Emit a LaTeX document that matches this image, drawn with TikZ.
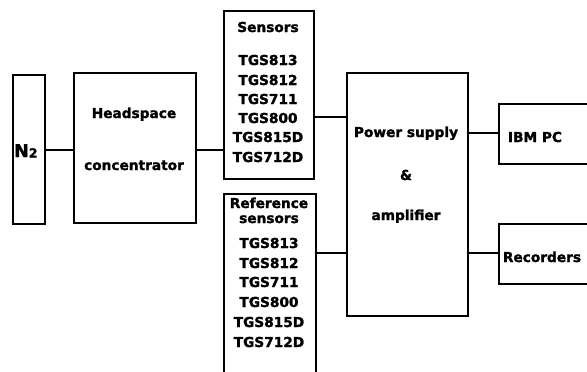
\documentclass[tikz,border=0pt]{standalone}
\usepackage{fontspec}
\setmainfont{DejaVu Sans}[BoldFeatures={FakeBold=1.6}]
\begin{document}
\begin{tikzpicture}[x=1pt,y=-1pt,
  box/.style={draw,line width=1.9pt,rectangle,inner sep=0pt,anchor=north west},
  lbl/.style={anchor=base,inner sep=0pt,font=\bfseries\fontsize{13.7}{16}\selectfont},
  wire/.style={line width=1.9pt}]
\clip (0,0) rectangle (587,372);
\fill[white] (0,0) rectangle (587,372);
% boxes
\node[box,minimum width=32pt,minimum height=149pt] (n2) at (12,74) {};
\node[box,minimum width=122pt,minimum height=150pt] (hs) at (73,72) {};
\node[box,minimum width=90pt,minimum height=168pt] (sens) at (223,10) {};
\node[box,minimum width=92pt,minimum height=190pt] (ref) at (223,193) {};
\node[box,minimum width=121pt,minimum height=243pt] (pw) at (346,72) {};
\node[box,minimum width=100pt,minimum height=60pt] (pc) at (498,103) {};
\node[box,minimum width=100pt,minimum height=60pt] (rec) at (498,223) {};
% texts
\node[anchor=base west,inner sep=0pt,font=\bfseries] (n2t) at (14,157)
  {\fontsize{17.5}{17}\selectfont N\fontsize{12.5}{12}\selectfont\raisebox{-0.5pt}{2}};
\node[lbl] (hs1) at (134,118) {Headspace};
\node[lbl] (hs2) at (134,170) {concentrator};
\node[lbl] (s0) at (268,32) {Sensors};
\node[lbl] (s1) at (268,65) {TGS813};
\node[lbl] (s2) at (268,85) {TGS812};
\node[lbl] (s3) at (268,104) {TGS711};
\node[lbl] (s4) at (268,123) {TGS800};
\node[lbl] (s5) at (268,142) {TGS815D};
\node[lbl] (s6) at (268,162) {TGS712D};
\node[lbl] (r0) at (269,208) {Reference};
\node[lbl] (r0b) at (269,223) {sensors};
\node[lbl] (r1) at (269,248) {TGS813};
\node[lbl] (r2) at (269,268) {TGS812};
\node[lbl] (r3) at (269,287) {TGS711};
\node[lbl] (r4) at (269,307) {TGS800};
\node[lbl] (r5) at (269,327) {TGS815D};
\node[lbl] (r6) at (269,347) {TGS712D};
\node[lbl] (p1) at (406,137) {Power supply};
\node[lbl] (p2) at (406,180) {\&};
\node[lbl] (p3) at (406,220) {amplifier};
\node[lbl] (pct) at (535,142) {IBM PC};
\node[lbl] (rect) at (542,262) {Recorders};
% connectors
\draw[wire] (n2.east |- 0,150) -- (hs.west |- 0,150);
\draw[wire] (hs.east |- 0,150) -- (sens.west |- 0,150);
\draw[wire] (sens.east |- 0,117) -- (pw.west |- 0,117);
\draw[wire] (ref.east |- 0,253) -- (pw.west |- 0,253);
\draw[wire] (pw.east |- 0,133) -- (pc.west |- 0,133);
\draw[wire] (pw.east |- 0,253) -- (rec.west |- 0,253);
\end{tikzpicture}
\end{document}
